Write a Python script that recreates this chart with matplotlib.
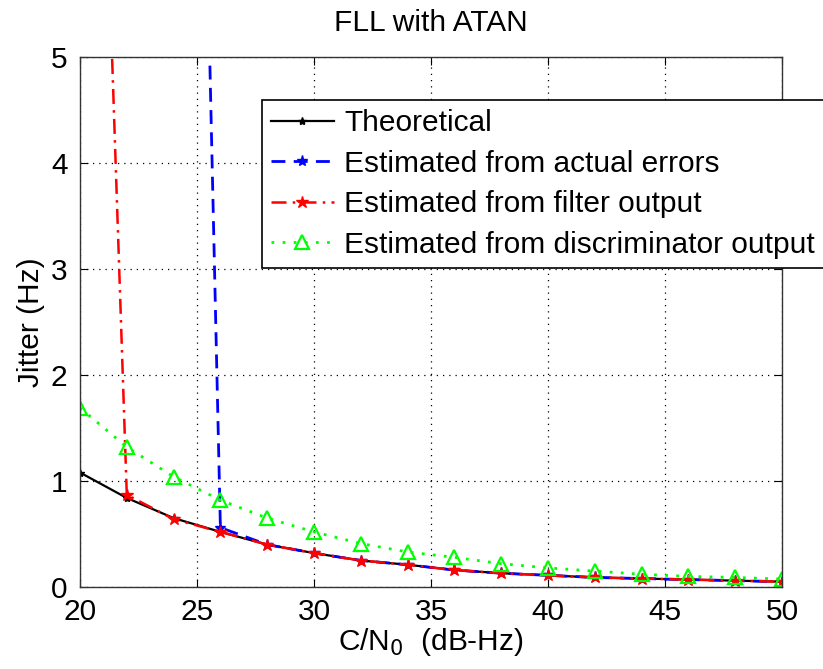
import numpy as np
import matplotlib
matplotlib.use('Agg')
from matplotlib import pyplot as plt

# C/N0 values (dB-Hz)
cn0 = [20, 22, 24, 26, 28, 30, 32, 34, 36, 38, 40, 42, 44, 46, 48, 50]

# jitter (Hz)
theoretical = [1.08, 0.84, 0.65, 0.52, 0.40, 0.32, 0.25, 0.21, 0.16, 0.13,
               0.11, 0.09, 0.08, 0.07, 0.06, 0.05]
actual_err = [40.0, 30.0, 20.0, 0.56, 0.40, 0.32, 0.25, 0.21, 0.16, 0.13,
              0.11, 0.09, 0.08, 0.07, 0.06, 0.05]
filter_out = [14.0, 0.87, 0.64, 0.52, 0.40, 0.32, 0.25, 0.21, 0.16, 0.13,
              0.11, 0.09, 0.08, 0.07, 0.06, 0.05]
discrim_out = [1.69, 1.32, 1.04, 0.82, 0.65, 0.52, 0.41, 0.33, 0.28, 0.22,
               0.18, 0.15, 0.12, 0.10, 0.09, 0.075]

plt.rcParams['font.family'] = ['Liberation Sans', 'DejaVu Sans']
fs = 21.5

fig = plt.figure(figsize=(8.23, 6.69), dpi=100)
ax = fig.add_axes([80 / 823, 82 / 669, 702 / 823, 530 / 669])

ax.plot(cn0, theoretical, color='black', linestyle='-', linewidth=1.6,
        marker='*', markersize=6, label='Theoretical')
ax.plot(cn0, actual_err, color='blue', linestyle=(0, (5, 3)), linewidth=2.0,
        marker='*', markersize=8, label='Estimated from actual errors')
ax.plot(cn0, filter_out, color='red', linestyle=(0, (6, 2.5, 1, 2.5)), linewidth=1.8,
        marker='*', markersize=9, label='Estimated from filter output')
ax.plot(cn0, discrim_out, color='#00ff00', linestyle=(0, (1, 3)), linewidth=2.0,
        marker='^', markersize=10, markerfacecolor='none', markeredgewidth=1.6,
        label='Estimated from discriminator output')

ax.set_xlim(20, 50)
ax.set_ylim(0, 5)
ax.set_xticks([20, 25, 30, 35, 40, 45, 50])
ax.set_yticks([0, 1, 2, 3, 4, 5])
ax.grid(True, color='black', linestyle=(0, (1, 4)), linewidth=0.9)
ax.tick_params(direction='in', top=True, right=True, labelsize=fs, length=6)
ax.tick_params(axis='x', pad=8)
ax.tick_params(axis='y', pad=9)
for lbl in ax.get_yticklabels():
    lbl.set_verticalalignment('center_baseline')
for s in ax.spines.values():
    s.set_linewidth(1.0)
    s.set_color('#333333')

ax.set_title('FLL with ATAN', fontsize=fs, pad=19)
ax.set_xlabel('C/N$_0$  (dB-Hz)', fontsize=fs, labelpad=0)
ax.set_ylabel('Jitter (Hz)', fontsize=fs, labelpad=4)

leg = ax.legend(loc='upper left', bbox_to_anchor=(262 / 823, 1 - 100 / 669),
                bbox_transform=fig.transFigure, fontsize=fs, frameon=True,
                fancybox=False, edgecolor='black', framealpha=1,
                handlelength=2.1, handletextpad=0.35, labelspacing=0.42,
                borderpad=0.3, borderaxespad=0)
leg.get_frame().set_linewidth(1.2)

plt.savefig('out.png', dpi=100)
plt.close()
